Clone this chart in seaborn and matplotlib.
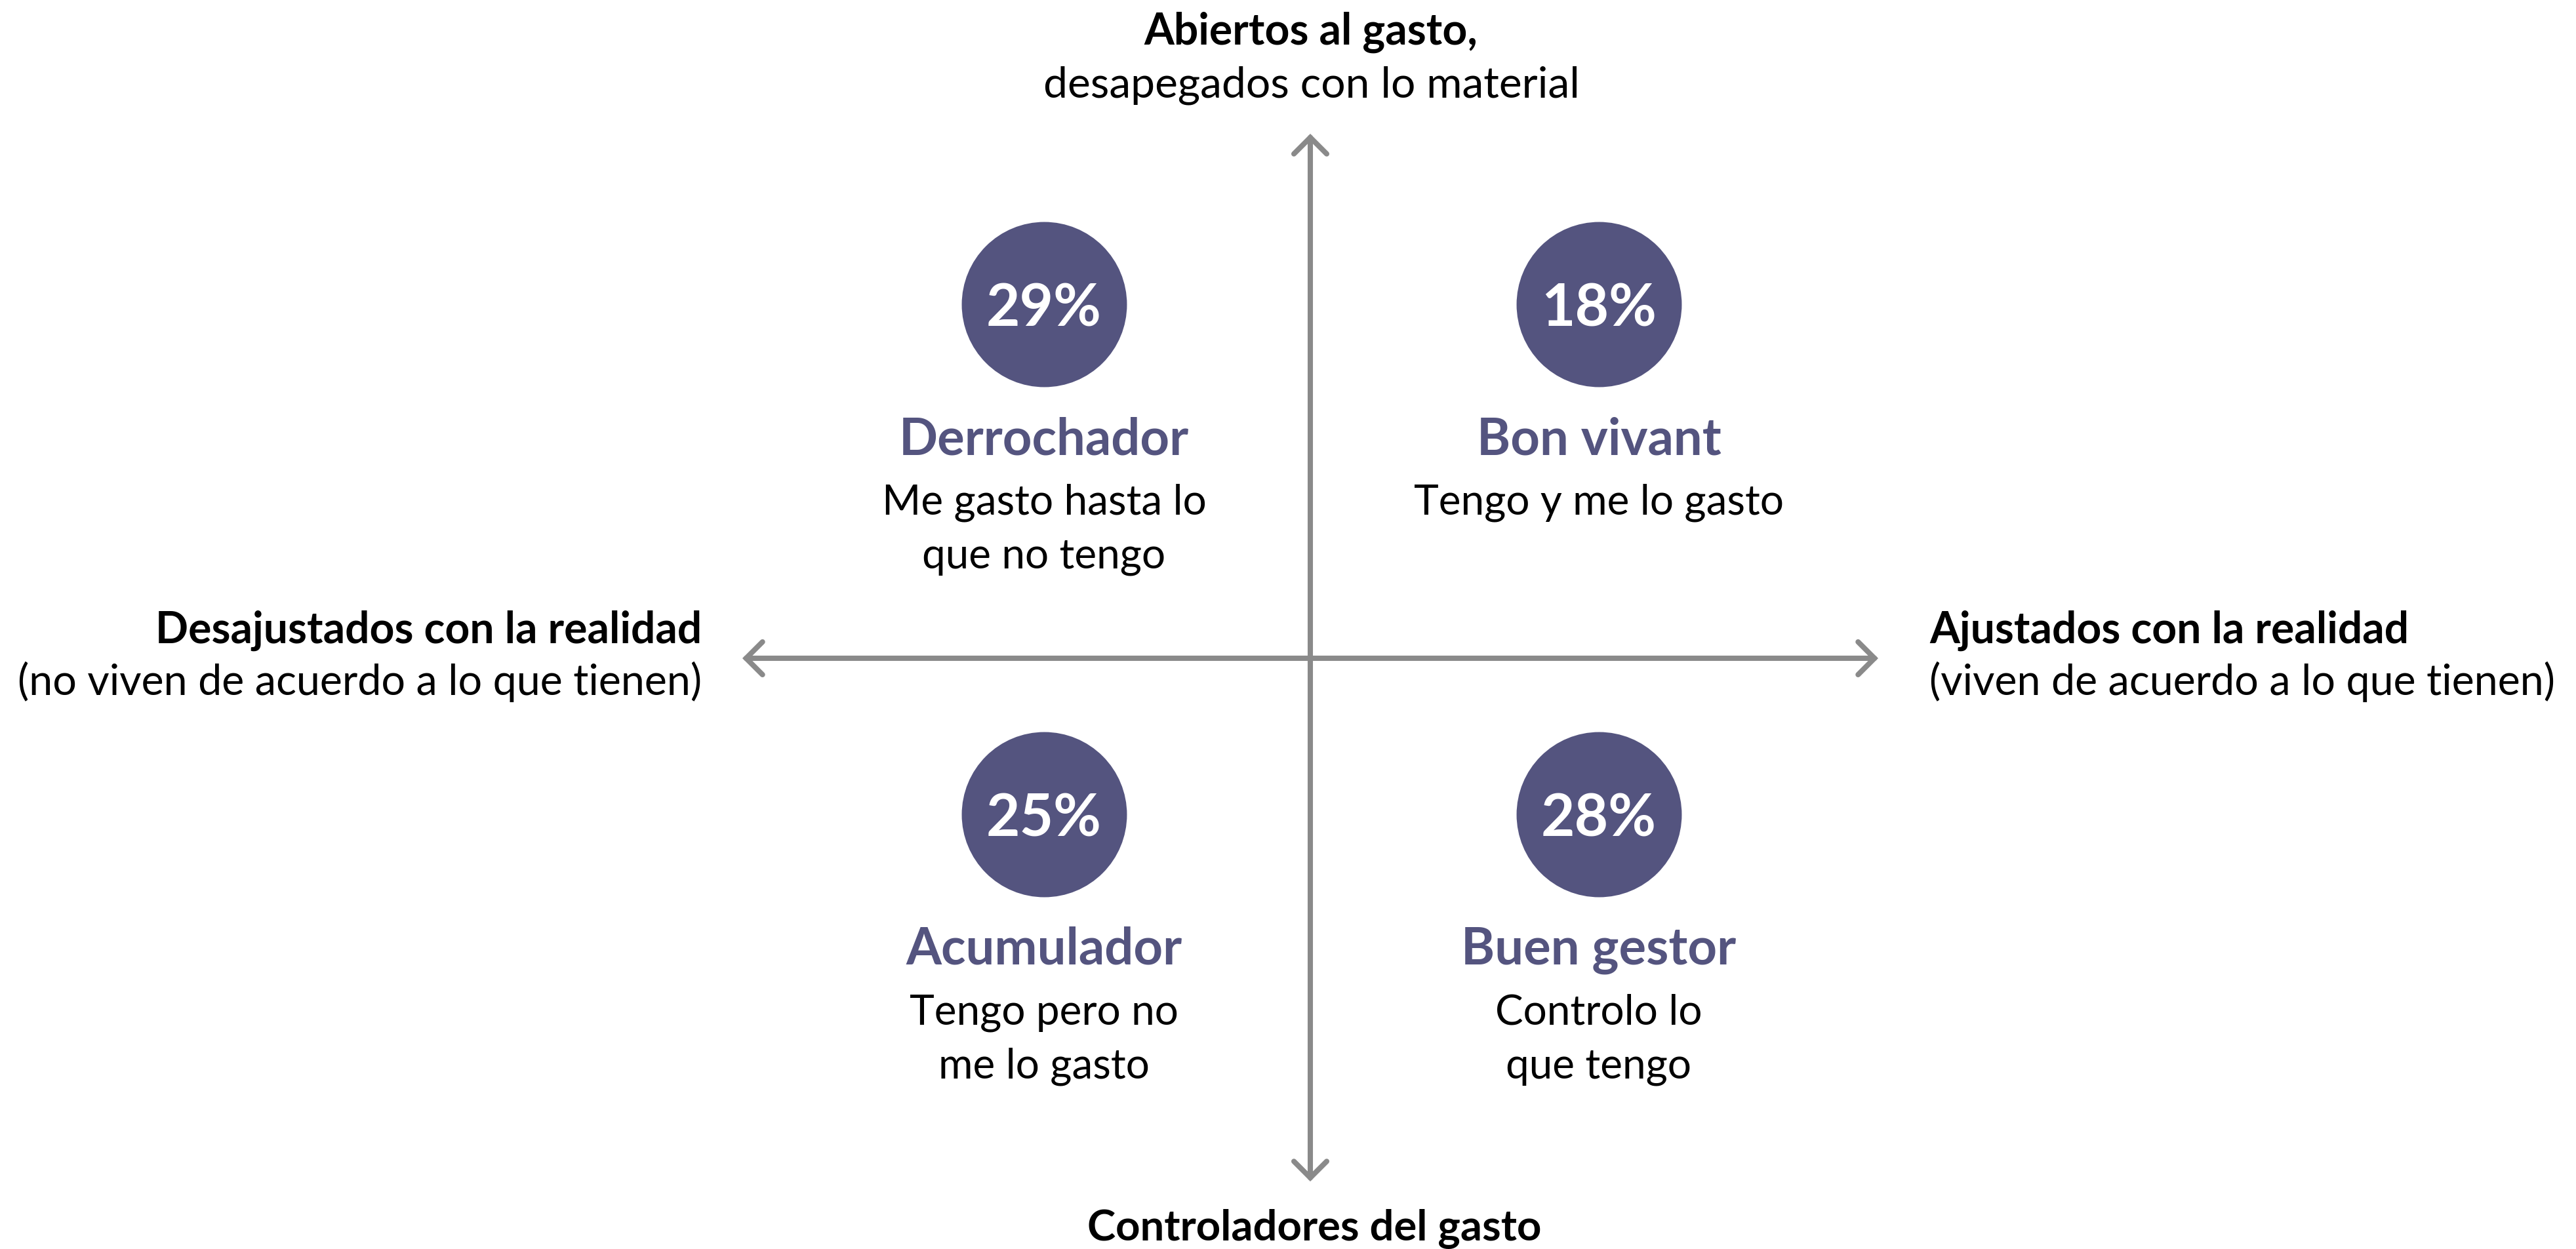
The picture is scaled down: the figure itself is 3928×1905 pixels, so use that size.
import matplotlib
matplotlib.use("Agg")
import matplotlib.pyplot as plt
import seaborn as sns
import pandas as pd

# ---- data ----
x_side = [-1, 1, -1, 1]          # -1: Desajustados, 1: Ajustados
y_side = [1, 1, -1, -1]          # 1: Abiertos al gasto, -1: Controladores
pct = [29, 18, 25, 28]
names = ["Derrochador", "Bon vivant", "Acumulador", "Buen gestor"]
desc_line1 = ["Me gasto hasta lo", "Tengo y me lo gasto", "Tengo pero no", "Controlo lo"]
desc_line2 = ["que no tengo", "", "me lo gasto", "que tengo"]

top_label = ["Abiertos al gasto,", "desapegados con lo material"]
bottom_label = ["Controladores del gasto"]
left_label = ["Desajustados con la realidad", "(no viven de acuerdo a lo que tienen)"]
right_label = ["Ajustados con la realidad", "(viven de acuerdo a lo que tienen)"]

# ---- style / layout ----
PURPLE = "#54547F"
GREY = "#8A8A8A"
INK = "#000000"
COL_X = {-1: -406, 1: 440}
ROW_Y = {1: 540, -1: -238}

sns.set_theme(style="white")
plt.rcParams["font.family"] = ["Lato", "DejaVu Sans"]
plt.rcParams["text.color"] = INK

fig = plt.figure(figsize=(39.28, 19.06), dpi=100)
ax = fig.add_axes([0, 0, 1, 1])

df = pd.DataFrame({
    "px": [COL_X[s] for s in x_side],
    "py": [ROW_Y[s] for s in y_side],
    "pct": pct, "name": names, "d1": desc_line1, "d2": desc_line2,
})

# axes arrows
arrow_kw = dict(arrowstyle="<->,head_length=0.9,head_width=0.9", color=GREY,
                lw=5.8, shrinkA=0, shrinkB=0, mutation_scale=20, joinstyle="miter")
ax.annotate("", xy=(866, 0), xytext=(-866, 0), arrowprops=arrow_kw)
ax.annotate("", xy=(0, 800), xytext=(0, -798), arrowprops=arrow_kw)

# circles
sns.scatterplot(data=df, x="px", y="py", s=32900, color=PURPLE, linewidth=0,
                legend=False, ax=ax, zorder=3)
ax.set_xlim(-1998, 1930)
ax.set_ylim(-901, 1005)
ax.axis("off")

for _, r in df.iterrows():
    ax.text(r.px, r.py - 33, f"{r.pct}%", ha="center", va="baseline",
            color="white", fontsize=64, fontweight="bold", zorder=4)
    ax.text(r.px, r.py - 228, r["name"], ha="center", va="baseline",
            color=PURPLE, fontsize=56, fontweight="bold")
    ax.text(r.px, r.py - 320, r.d1, ha="center", va="baseline",
            color=INK, fontsize=46)
    if r.d2:
        ax.text(r.px, r.py - 402, r.d2, ha="center", va="baseline",
                color=INK, fontsize=46)

FS_B = 47.5
FS_R = 46.5
# top
ax.text(1, 1005 - 68, top_label[0], ha="center", va="baseline", fontsize=FS_B,
        fontweight="bold", color=INK)
ax.text(2, 1005 - 148, top_label[1], ha="center", va="baseline", fontsize=47.5, color=INK)
# bottom
ax.text(6, 1005 - 1892, bottom_label[0], ha="center", va="baseline", fontsize=47,
        fontweight="bold", color=INK)
# left
ax.text(1070 - 1998, 1005 - 981, left_label[0], ha="right", va="baseline", fontsize=FS_B,
        fontweight="bold", color=INK)
ax.text(1070 - 1998, 1005 - 1060, left_label[1], ha="right", va="baseline", fontsize=FS_R,
        color=INK)
# right
ax.text(2942 - 1998, 1005 - 981, right_label[0], ha="left", va="baseline", fontsize=FS_B,
        fontweight="bold", color=INK)
ax.text(2942 - 1998, 1005 - 1060, right_label[1], ha="left", va="baseline", fontsize=FS_R,
        color=INK)

fig.savefig("out.png", dpi=100, facecolor="white")
